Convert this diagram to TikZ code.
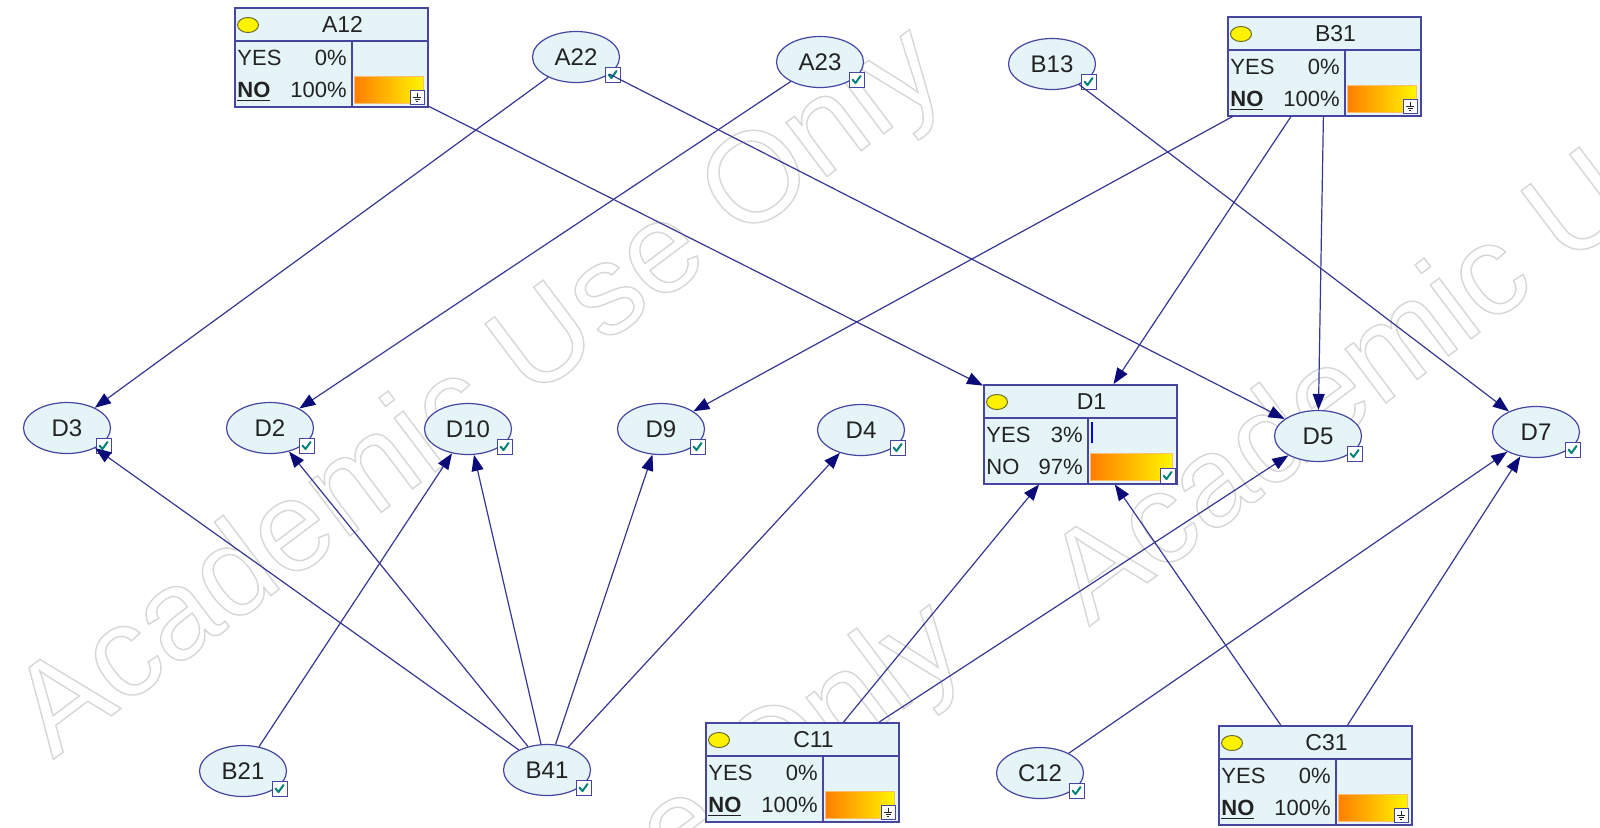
\documentclass[tikz,border=0pt]{standalone}
\usepackage{fontspec}
\setmainfont{Liberation Sans}
\usetikzlibrary{shapes.geometric,arrows.meta}
\definecolor{nfill}{RGB}{228,244,247}
\definecolor{nborder}{RGB}{70,70,160}
\definecolor{ecol}{RGB}{55,55,145}
\definecolor{tipcol}{RGB}{10,10,120}
\definecolor{tcol}{RGB}{35,35,35}
\definecolor{chkcol}{RGB}{0,130,120}
\definecolor{wm}{RGB}{215,215,215}
\definecolor{barL}{RGB}{255,125,0}
\definecolor{barR}{RGB}{255,245,0}
\definecolor{barB}{RGB}{255,190,110}
\definecolor{ylb}{RGB}{110,110,40}
\tikzset{
 elln/.style={ellipse, draw=nborder, fill=nfill, line width=0.6pt, minimum width=43.5pt, minimum height=25.5pt, inner sep=0pt, font=\fontsize{12}{14}\selectfont, text=tcol},
 boxn/.style={rectangle, draw=nborder, fill=nfill, line width=0.75pt, minimum width=96.5pt, minimum height=49.5pt, inner sep=0pt, anchor=north west},
 edge/.style={draw=ecol, line width=0.6pt, -{Triangle[length=8pt,width=6pt,color=tipcol]}},
 chk/.style={draw=nborder, fill=white, line width=0.5pt},
 tick/.style={draw=chkcol, line width=1pt, line cap=round, line join=round},
 btext/.style={font=\fontsize{11}{13}\selectfont, text=tcol, inner sep=0pt},
 wmark/.style={font=\fontsize{64}{72}\selectfont, text=wm, inner sep=0pt, rotate=37},
}
\newcommand\chkb[2]{%
 \begin{scope}[shift={({#1},{#2})}]
 \draw[chk] (0,0) rectangle (15,15);
 \draw[tick] (3.5,7.5) -- (6.5,11) -- (11.5,4);
 \end{scope}}
\newcommand\gndb[2]{%
 \begin{scope}[shift={({#1},{#2})}]
 \draw[chk] (0,0) rectangle (14,14);
 \draw[tcol, line width=0.4pt] (7,2.5) -- (7,7) (3,7) -- (11,7) (4.5,9) -- (9.5,9) (6,11) -- (8,11);
 \end{scope}}
\newcommand\enode[3]{%
 \node[elln] (#1) at (#2,#3) {#1};
 \chkb{#2+29}{#3+10}}
\newcommand\bnbox[9]{%
 \node[boxn] (#1) at (#2,#3) {};
 \begin{scope}[shift={(#2,#3)}]
 \draw[nborder, line width=0.75pt] (0,34) -- (193,34) (#4,34) -- (#4,99);
 \draw[fill=yellow, draw=ylb, line width=0.5pt] (14,18) ellipse [x radius=10.5, y radius=7.5];
 \node[btext, anchor=base] at (108.5,25) {\fontsize{11.5}{13}\selectfont #1};
 \node[btext, anchor=base west] at (3,58) {YES};
 \node[btext, anchor=base east] at (#5,58) {#6};
 \node[btext, anchor=base west] at (3,90) {#8};
 \node[btext, anchor=base east] at (#5,90) {#7};
 \shade[left color=barL, right color=barR, draw=barB, line width=0.4pt] ({#4+2},69) rectangle (189,96);
 #9
 \end{scope}}
\newcommand\outl[1]{\special{pdf:literal direct 1 Tr 0.7 w}#1\special{pdf:literal direct 0 Tr}}
\begin{document}
\begin{tikzpicture}[x=0.5pt,y=-0.5pt]
\useasboundingbox (0,0) rectangle (1600,827);
\fill[white] (0,0) rectangle (1600,827);
% watermarks
\node[wmark] (wm1) at (482,395) {\outl{Academic Use Only}};
\node[wmark] (wm2) at (1518,262) {\outl{Academic Use Only}};
\node[wmark] (wm3) at (502,970) {\outl{Academic Use Only}};
% boxes
\bnbox{A12}{234}{7}{118}{113}{0\%}{100\%}{\underline{\textbf{NO}}}{\gndb{176}{83}}
\bnbox{B31}{1227}{16}{118}{113}{0\%}{100\%}{\underline{\textbf{NO}}}{\gndb{176}{83}}
\bnbox{C11}{705}{722}{118}{113}{0\%}{100\%}{\underline{\textbf{NO}}}{\gndb{176}{83}}
\bnbox{C31}{1218}{725}{118}{113}{0\%}{100\%}{\underline{\textbf{NO}}}{\gndb{176}{83}}
\bnbox{D1}{983}{384}{105}{100}{3\%}{97\%}{NO}{\chkb{177}{84}\draw[blue, line width=1pt] (108.5,38) -- (108.5,59);}
% ellipses
\enode{A22}{576}{57}
\enode{A23}{820}{62}
\enode{B13}{1052}{64}
\enode{D3}{67}{428}
\enode{D2}{270}{428}
\enode{D10}{468}{429}
\enode{D9}{661}{429}
\enode{D4}{861}{430}
\enode{D5}{1318}{436}
\enode{D7}{1536}{432}
\enode{B21}{243}{771}
\enode{B41}{547}{770}
\enode{C12}{1040}{773}
% edges
\draw[edge] (A12) -- (D1);
\draw[edge] (A22) -- (D3);
\draw[edge] (A22) -- (D5);
\draw[edge] (A23) -- (D2);
\draw[edge] (B31) -- (D9);
\draw[edge] (B31) -- (D1);
\draw[edge] (B31) -- (D5);
\draw[edge] (B13) -- (D7);
\draw[edge] (B41) -- (D3);
\draw[edge] (B41) -- (D2);
\draw[edge] (B41) -- (D10);
\draw[edge] (B41) -- (D9);
\draw[edge] (B41) -- (D4);
\draw[edge] (B21) -- (D10);
\draw[edge] (C11) -- (D1);
\draw[edge] (C11) -- (D5);
\draw[edge] (C31) -- (D1);
\draw[edge] (C31) -- (D7);
\draw[edge] (C12) -- (D7);
\end{tikzpicture}
\end{document}
